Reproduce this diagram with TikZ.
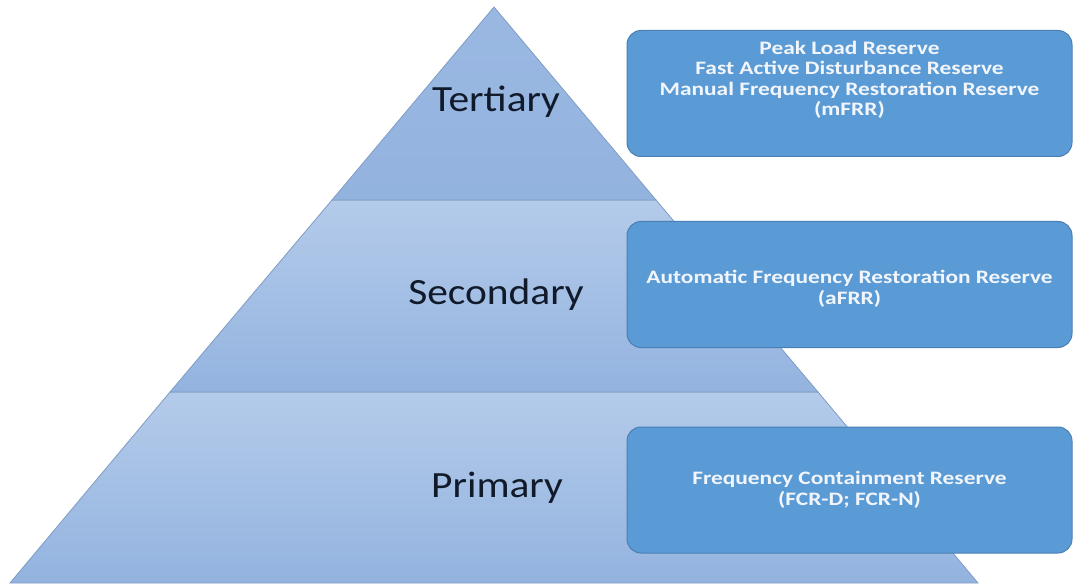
\documentclass[tikz,border=0pt]{standalone}
\usepackage{fontspec}
\setmainfont{Carlito}
\newfontfamily\levelfont[FakeStretch=1.12]{Carlito}
\newfontfamily\reservefont[FakeStretch=1.23]{Carlito}
\usetikzlibrary{calc}
\definecolor{bandtop}{HTML}{B4CBEA}
\definecolor{bandbot}{HTML}{93B3DF}
\definecolor{bandline}{HTML}{7F9CC4}
\definecolor{boxfill}{HTML}{5B9BD5}
\definecolor{boxline}{HTML}{4A7FB5}
\definecolor{labeltext}{HTML}{111A2A}
\definecolor{boxtext}{HTML}{F2F6FC}
\tikzset{
  band/.style={top color=bandtop, bottom color=bandbot, draw=bandline, line width=0.8pt},
  levellabel/.style={font=\levelfont\fontsize{37}{40}\selectfont, text=labeltext, inner sep=0pt, anchor=base},
  reservebox/.style={draw=boxline, line width=1pt, fill=boxfill, rounded corners=14pt,
    minimum width=445pt, minimum height=126pt},
  reservetext/.style={text=boxtext, align=center, inner sep=0pt,
    font=\reservefont\bfseries\fontsize{19}{20.5}\selectfont},
}
\begin{document}
\begin{tikzpicture}[x=1pt,y=-1pt]
\useasboundingbox (0,0) rectangle (1073,585);
% pyramid corners and level boundaries
\coordinate (apex) at (494,7);
\coordinate (t1l) at (332,200);
\coordinate (t1r) at (656,200);
\coordinate (t2l) at (170,392);
\coordinate (t2r) at (818,392);
\coordinate (bl) at (10,583);
\coordinate (br) at (978,583);
% pyramid levels
\path[band] (t2l) -- (t2r) -- (br) -- (bl) -- cycle;
\path[band] (t1l) -- (t1r) -- (t2r) -- (t2l) -- cycle;
\path[band, top color=bandbot!80!bandtop] (apex) -- (t1r) -- (t1l) -- cycle;
\node[levellabel] (tert) at (496,112) {Tertiary};
\node[levellabel] (sec) at (496,305) {Secondary};
\node[levellabel] (prim) at (497,497) {Primary};
% reserve boxes
\node[reservebox] (mfrr) at (849.5,93.5) {};
\node[reservetext] (mfrrtext) at (849.5,80) {Peak Load Reserve\\Fast Active Disturbance Reserve\\Manual Frequency Restoration Reserve\\(mFRR)};
\node[reservebox] (afrr) at (849.5,284.5) {};
\node[reservetext] (afrrtext) at (849.5,289) {Automatic Frequency Restoration Reserve\\(aFRR)};
\node[reservebox] (fcr) at (849.5,490) {};
\node[reservetext] (fcrtext) at (849.5,490) {Frequency Containment Reserve\\(FCR-D; FCR-N)};
\end{tikzpicture}
\end{document}
